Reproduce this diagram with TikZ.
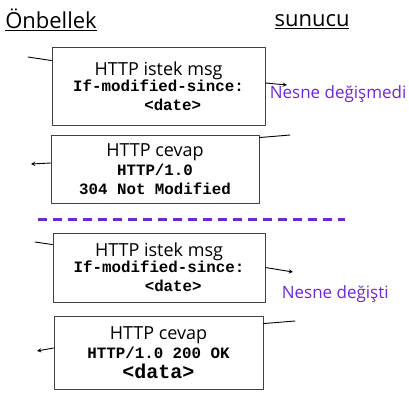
\documentclass[tikz,border=0pt]{standalone}
\usepackage{fontspec}
\setmainfont{Open Sans}
\setmonofont{Liberation Mono}
\definecolor{lila}{RGB}{110,40,210}
\newcommand{\monoline}[1]{{\fontsize{15.8}{19}\selectfont\ttfamily\bfseries #1}}
\newcommand{\headline}[1]{{\fontsize{18}{19}\selectfont #1}}

\begin{document}
\begin{tikzpicture}[x=1pt, y=-1pt, line cap=round, line join=round, >=stealth, line width=0.9pt]
  \tikzset{msg/.style={draw=black!75, align=center, inner sep=0pt, font=\fontsize{16}{19}\selectfont},
           note/.style={text=lila, anchor=west, font=\fontsize{17}{19}\selectfont}}
  \useasboundingbox (0,0) rectangle (409,400);
  % headings
  \node (cache) at (51,20) {\fontsize{22}{24}\selectfont\underline{Önbellek}};
  \node (server) at (312,22) {\fontsize{22}{24}\selectfont\underline{sunucu}};
  % first exchange
  \node[msg, minimum width=213, minimum height=78] (req1) at (158.5,86)
    {\headline{HTTP istek msg}\\[-3pt]\monoline{If-modified-since:}\\\monoline{\phantom{xxx}<date>}};
  \coordinate (c1) at (28,57);
  \coordinate (o1) at (287,85);
  \draw (c1) -- ([yshift=-14pt]req1.north west);
  \draw[->] ([yshift=3pt]req1.east) -- (o1);
  \node[note] (same) at (266,94) {Nesne değişmedi};
  \node[msg, minimum width=208, minimum height=68] (resp1) at (155,169)
    {\headline{HTTP cevap}\\\monoline{HTTP/1.0}\\\monoline{304 Not Modified}};
  \coordinate (c2) at (290,135);
  \coordinate (o2) at (31,164);
  \draw ([yshift=-3pt]resp1.north east) -- (c2);
  \draw[->] ([yshift=6pt]resp1.west) -- (o2);
  % separator
  \draw[lila, line width=3pt, line cap=butt, dash pattern=on 9pt off 6pt] (38,219) -- (345,219);
  % second exchange
  \node[msg, minimum width=212, minimum height=69] (req2) at (159,267.5)
    {\headline{HTTP istek msg}\\[-3pt]\monoline{If-modified-since:}\\\monoline{\phantom{xxx}<date>}};
  \coordinate (c3) at (35,242);
  \coordinate (o3) at (293,272);
  \draw (c3) -- ([yshift=-12pt]req2.north west);
  \draw[->] (req2.east) -- (o3);
  \node[note] (changed) at (278,294) {Nesne değişti};
  \node[msg, minimum width=209, minimum height=73] (resp2) at (158.5,352.5)
    {\headline{HTTP cevap}\\\monoline{HTTP/1.0 200 OK}\\[1pt]{\fontsize{20}{22}\selectfont\ttfamily\bfseries <data>}};
  \coordinate (c4) at (295,321);
  \coordinate (o4) at (37,351);
  \draw ([yshift=-8pt]resp2.north east) -- (c4);
  \draw[->] ([yshift=4.5pt]resp2.west) -- (o4);
\end{tikzpicture}
\end{document}
